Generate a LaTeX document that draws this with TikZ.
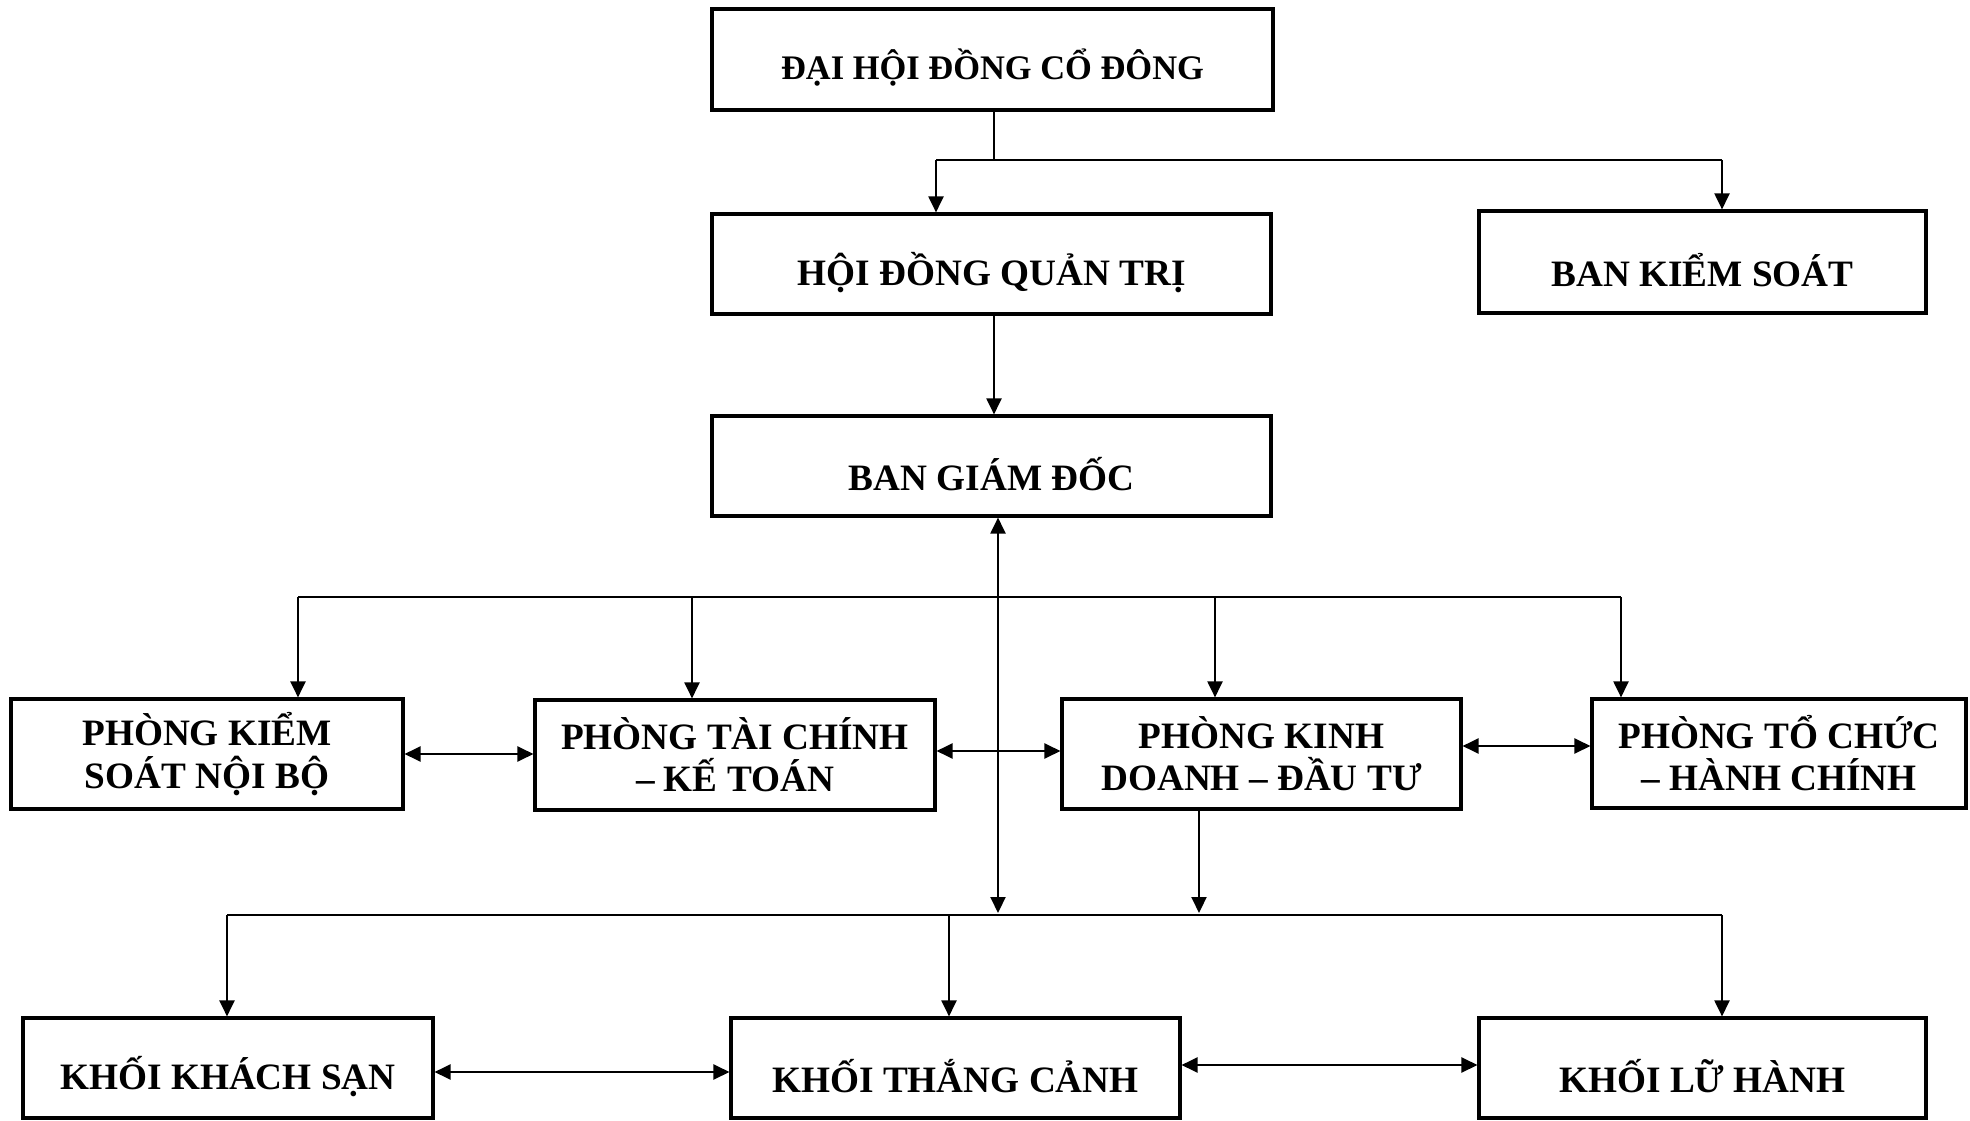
\documentclass[tikz,border=0pt]{standalone}
\usepackage{fontspec}
\setmainfont{Liberation Serif}
\usetikzlibrary{arrows.meta}
\newcommand{\lowtxt}[1]{\raisebox{-0.17cm}[\height][\depth]{#1}}
\begin{document}
\begin{tikzpicture}[x=0.02cm,y=-0.02cm,
  box/.style={draw, line width=1.8pt, inner sep=0pt, align=center,
    font=\fontsize{21.2}{24}\selectfont\bfseries},
  conn/.style={line width=1.2pt},
  arr/.style={conn, -{Triangle[length=0.32cm,width=0.3cm]}},
  darr/.style={conn, {Triangle[length=0.32cm,width=0.3cm]}-{Triangle[length=0.32cm,width=0.3cm]}}]
\useasboundingbox (0,0) rectangle (1970,1121);

% boxes
\node[box, font=\fontsize{19.6}{24}\selectfont\bfseries, minimum width=11.22cm, minimum height=2.02cm] (dh) at (992.5,59.5) {\lowtxt{ĐẠI HỘI ĐỒNG CỔ ĐÔNG}};
\node[box, minimum width=11.18cm, minimum height=2.0cm] (hd) at (991.5,264) {\lowtxt{HỘI ĐỒNG QUẢN TRỊ}};
\node[box, minimum width=8.94cm, minimum height=2.04cm] (bks) at (1702.5,262) {\lowtxt{BAN KIỂM SOÁT}};
\node[box, minimum width=11.18cm, minimum height=2.0cm] (bgd) at (991.5,466) {\lowtxt{BAN GIÁM ĐỐC}};

\node[box, minimum width=7.84cm, minimum height=2.2cm] (ksnb) at (207,754) {PHÒNG KIỂM\\SOÁT NỘI BỘ};
\node[box, minimum width=8.0cm, minimum height=2.2cm] (tckt) at (735,755) {PHÒNG TÀI CHÍNH\\– KẾ TOÁN};
\node[box, minimum width=7.98cm, minimum height=2.2cm] (kddt) at (1261.5,754) {PHÒNG KINH\\DOANH – ĐẦU TƯ};
\node[box, minimum width=7.48cm, minimum height=2.18cm] (tchc) at (1779,753.5) {PHÒNG TỔ CHỨC\\– HÀNH CHÍNH};

\node[box, minimum width=8.2cm, minimum height=2.0cm] (kks) at (228,1068) {\lowtxt{KHỐI KHÁCH SẠN}};
\node[box, minimum width=8.98cm, minimum height=2.0cm] (ktc) at (955.5,1068) {\lowtxt{KHỐI THẮNG CẢNH}};
\node[box, minimum width=8.94cm, minimum height=2.0cm] (klh) at (1702.5,1068) {\lowtxt{KHỐI LỮ HÀNH}};

% top connectors
\coordinate (j0) at (994,160);
\coordinate (j1) at (936,160);
\coordinate (j2) at (1722,160);
\draw[conn] (dh.south -| j0) -- (j0);
\draw[conn] (j1) -- (j2);
\draw[arr] (j1) -- (j1 |- hd.north);
\draw[arr] (j2) -- (j2 |- bks.north);
\draw[arr] (hd.south -| j0) -- (bgd.north -| j0);

% bus 1
\coordinate (k1) at (298,597);
\coordinate (k2) at (692,597);
\coordinate (k3) at (1215,597);
\coordinate (k4) at (1621,597);
\draw[conn] (k1) -- (k4);
\draw[arr] (k1) -- (k1 |- ksnb.north);
\draw[arr] (k2) -- (k2 |- tckt.north);
\draw[arr] (k3) -- (k3 |- kddt.north);
\draw[arr] (k4) -- (k4 |- tchc.north);

% vertical double arrow from BGD to bus 2
\coordinate (v) at (998,913);
\draw[darr] (bgd.south -| v) -- (v);

% horizontal double arrows, row 1
\coordinate (h1) at (0,754);
\coordinate (h2) at (0,751);
\coordinate (h3) at (0,746);
\draw[darr] (ksnb.east |- h1) -- (tckt.west |- h1);
\draw[darr] (tckt.east |- h2) -- (kddt.west |- h2);
\draw[darr] (kddt.east |- h3) -- (tchc.west |- h3);

% from KD-DT to bus 2
\coordinate (kd) at (1199,913);
\draw[arr] (kddt.south -| kd) -- (kd);

% bus 2
\coordinate (m1) at (227,915);
\coordinate (m2) at (949,915);
\coordinate (m3) at (1722,915);
\draw[conn] (m1) -- (m3);
\draw[arr] (m1) -- (m1 |- kks.north);
\draw[arr] (m2) -- (m2 |- ktc.north);
\draw[arr] (m3) -- (m3 |- klh.north);

% horizontal double arrows, row 2
\coordinate (h4) at (0,1072);
\coordinate (h5) at (0,1065);
\draw[darr] (kks.east |- h4) -- (ktc.west |- h4);
\draw[darr] (ktc.east |- h5) -- (klh.west |- h5);
\end{tikzpicture}
\end{document}
